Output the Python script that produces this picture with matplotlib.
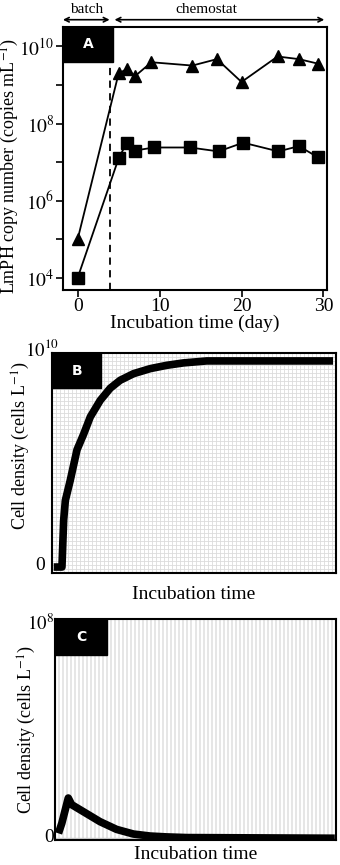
import matplotlib
matplotlib.use("Agg")
import matplotlib.pyplot as plt
import numpy as np

# panel A: LmPH copy numbers (copies per mL)
day_tri = [0, 5, 6, 7, 9, 14, 17, 20, 24.4, 27, 29.3]
copies_tri = [1e5, 2.0e9, 2.6e9, 1.7e9, 3.9e9, 3.2e9, 4.7e9, 1.2e9, 5.5e9, 4.7e9, 3.6e9]
day_sq = [0, 5, 6, 7, 9.3, 13.7, 17.2, 20.2, 24.5, 27, 29.3]
copies_sq = [1e4, 1.25e7, 3.2e7, 2.0e7, 2.4e7, 2.4e7, 1.9e7, 3.2e7, 1.9e7, 2.6e7, 1.35e7]
batch_end = 4

# panel B: modelled cell density (fraction of 1e10 cells/L), time in % of run
t_b = [0.6, 3.5, 4.1, 4.7, 6.4, 8.8, 11.1, 13.5, 17, 20.5, 24, 28.7, 34.6, 40.4, 46.3, 54.5, 99]
dens_b = [0.027, 0.027, 0.24, 0.33, 0.42, 0.56, 0.63, 0.71, 0.785, 0.84, 0.876, 0.906,
          0.929, 0.944, 0.955, 0.964, 0.964]

# panel C: modelled cell density (fraction of 1e8 cells/L)
t_c = [1.2, 2.4, 4.7, 5.9, 10.1, 16, 21.9, 27.9, 33.8, 39.7, 46.9, 99.6]
dens_c = [0.03, 0.076, 0.19, 0.16, 0.128, 0.083, 0.048, 0.027, 0.018, 0.014, 0.011, 0.008]

plt.rcParams['font.family'] = ['Liberation Serif', 'DejaVu Serif']
plt.rcParams['mathtext.fontset'] = 'stix'
fs = 14
fs_y = 13

fig = plt.figure(figsize=(3.4, 8.65), dpi=100)


def panel_box(ax, letter, w, h):
    ax.add_patch(plt.Rectangle((0, 1 - h), w, h, transform=ax.transAxes,
                               facecolor='black', edgecolor='black', zorder=5, clip_on=False))
    ax.text(w / 2, 1 - h / 2, letter, transform=ax.transAxes, ha='center', va='center',
            color='white', fontsize=10, fontweight='bold', family='DejaVu Sans', zorder=6)


# ---- panel A
axA = fig.add_axes([0.185, 0.665, 0.776, 0.304])
axA.plot(day_tri, copies_tri, '-^', color='black', ms=9, lw=1.3)
axA.plot(day_sq, copies_sq, '-s', color='black', ms=8.5, lw=1.3)
axA.axvline(batch_end, color='black', ls='--', lw=1.3, dashes=(4, 3))
axA.set_yscale('log')
axA.set_xlim(-1.8, 30.4)
axA.set_ylim(10**3.69, 10**10.51)
axA.set_xticks([0, 10, 20, 30])
axA.set_yticks([1e4, 1e5, 1e6, 1e7, 1e8, 1e9, 1e10])
axA.set_yticklabels(['$10^{4}$', '', '$10^{6}$', '', '$10^{8}$', '', '$10^{10}$'])
axA.yaxis.set_minor_locator(matplotlib.ticker.NullLocator())
axA.tick_params(direction='out', length=5, width=1.2, labelsize=fs, pad=1)
axA.set_xlabel('Incubation time (day)', fontsize=fs, labelpad=0)
axA.set_ylabel('LmPH copy number (copies mL$^{-1}$)', fontsize=fs_y)
axA.yaxis.set_label_coords(-0.16, 0.47)
for s in axA.spines.values():
    s.set_linewidth(1.5)
panel_box(axA, 'A', 0.19, 0.133)

arrow = dict(arrowstyle='<->', color='black', lw=1.2, shrinkA=0, shrinkB=0, mutation_scale=8)
axA.annotate('', xy=(-1.8, 1.027), xytext=(batch_end - 0.1, 1.027),
             xycoords=('data', 'axes fraction'), textcoords=('data', 'axes fraction'),
             arrowprops=arrow)
axA.annotate('', xy=(batch_end + 0.5, 1.027), xytext=(30.1, 1.027),
             xycoords=('data', 'axes fraction'), textcoords=('data', 'axes fraction'),
             arrowprops=arrow)
axA.text(1.1, 1.065, 'batch', transform=axA.get_xaxis_transform(), ha='center',
         va='center', fontsize=11)
axA.text(15.7, 1.065, 'chemostat', transform=axA.get_xaxis_transform(), ha='center',
         va='center', fontsize=11)

# ---- panel B
axB = fig.add_axes([0.153, 0.3376, 0.835, 0.2543])
axB.set_xlim(0, 100)
axB.set_ylim(0, 1)
axB.set_xticks(np.arange(0, 101, 100 / 71), minor=True)
axB.set_yticks(np.arange(0, 1.001, 1 / 55), minor=True)
axB.grid(which='minor', color='#dcdcdc', lw=0.6)
axB.plot(t_b, dens_b, color='black', lw=5.5, solid_capstyle='butt', zorder=4)
axB.set_xticks([])
axB.set_yticks([])
axB.tick_params(which='both', length=0)
axB.text(0.025, 1.014, '$10^{10}$', transform=axB.transAxes, ha='right', va='center',
         fontsize=13.5, zorder=7)
axB.text(-0.025, 0.036, '0', transform=axB.transAxes, ha='right', va='center', fontsize=fs)
axB.set_xlabel('Incubation time', fontsize=fs, labelpad=6)
axB.set_ylabel('Cell density (cells L$^{-1}$)', fontsize=fs_y)
axB.yaxis.set_label_coords(-0.07, 0.58)
for s in axB.spines.values():
    s.set_linewidth(1.5)
panel_box(axB, 'B', 0.173, 0.16)

# ---- panel C
axC = fig.add_axes([0.162, 0.0289, 0.826, 0.2555])
axC.set_xlim(0, 100)
axC.set_ylim(0, 1)
axC.set_xticks(np.arange(0, 101, 100 / 70), minor=True)
axC.grid(which='minor', axis='x', color='#e2e2e2', lw=1.2)
axC.axhline(0.01, color='#cccccc', lw=1)
axC.plot(t_c, dens_c, color='black', lw=5.5, solid_capstyle='butt', zorder=4)
axC.set_xticks([])
axC.set_yticks([])
axC.tick_params(which='both', length=0)
axC.text(-0.005, 0.98, '$10^{8}$', transform=axC.transAxes, ha='right', va='center',
         fontsize=13.5, zorder=7)
axC.text(-0.005, 0.01, '0', transform=axC.transAxes, ha='right', va='center', fontsize=fs)
axC.set_xlabel('Incubation time', fontsize=fs, labelpad=1)
axC.set_ylabel('Cell density (cells L$^{-1}$)', fontsize=fs_y)
axC.yaxis.set_label_coords(-0.06, 0.5)
for s in axC.spines.values():
    s.set_linewidth(1.5)
panel_box(axC, 'C', 0.185, 0.163)

fig.savefig('out.png', dpi=100)
